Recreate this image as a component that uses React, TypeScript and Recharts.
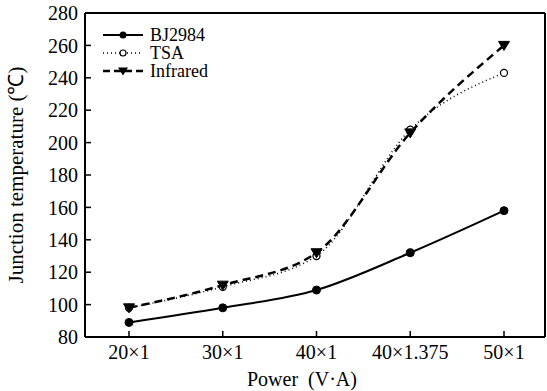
import React from "react";
import { LineChart, Line, XAxis, YAxis, ReferenceLine } from "recharts";

const categories = ["20×1", "30×1", "40×1", "40×1.375", "50×1"];
const bj2984 = [89, 98, 109, 132, 158];
const tsa = [98, 111, 130, 208, 243];
const infrared = [98, 112, 132, 206, 260];
const yTicks = [80, 100, 120, 140, 160, 180, 200, 220, 240, 260, 280];

const data = categories.map((c, i) => ({
  name: c,
  bj: bj2984[i],
  tsa: tsa[i],
  ir: infrared[i],
}));

const FONT = "Liberation Serif";

const FilledDot = (p: any) => {
  const { cx, cy } = p;
  if (cx == null || cy == null) return null;
  return <circle key={p.index} cx={cx} cy={cy} r={4} fill="#000" stroke="#000" />;
};
const OpenDot = (p: any) => {
  const { cx, cy } = p;
  if (cx == null || cy == null) return null;
  return <circle key={p.index} cx={cx} cy={cy} r={3.5} fill="#fff" stroke="#000" strokeWidth={1.3} />;
};
const TriDot = (p: any) => {
  const { cx, cy } = p;
  if (cx == null || cy == null) return null;
  return (
    <path
      key={p.index}
      d={`M${cx - 5.5},${cy - 4} L${cx + 5.5},${cy - 4} L${cx},${cy + 5} Z`}
      fill="#000"
      stroke="#000"
    />
  );
};

const LegendBox = () => {
  const items = [
    { label: "BJ2984", dash: undefined as string | undefined, w: 2, dot: "filled" },
    { label: "TSA", dash: "1 3", w: 1.5, dot: "open" },
    { label: "Infrared", dash: "7 4", w: 2.5, dot: "tri" },
  ];
  return (
    <svg width={140} height={60} style={{ position: "absolute", left: 100, top: 24 }}>
      {items.map((it, i) => {
        const cy = 11 + i * 18;
        return (
          <g key={it.label}>
            <line x1={3} x2={43} y1={cy} y2={cy} stroke="#000" strokeWidth={it.w} strokeDasharray={it.dash} />
            {it.dot === "filled" && <circle cx={23} cy={cy} r={3.5} fill="#000" />}
            {it.dot === "open" && <circle cx={23} cy={cy} r={3} fill="#fff" stroke="#000" strokeWidth={1.2} />}
            {it.dot === "tri" && (
              <path d={`M${23 - 5},${cy - 3.5} L${23 + 5},${cy - 3.5} L23,${cy + 4.5} Z`} fill="#000" />
            )}
            <text x={50} y={cy} dy={5.5} fontFamily={FONT} fontSize={18} fill="#000">
              {it.label}
            </text>
          </g>
        );
      })}
    </svg>
  );
};

const tickStyle = { fontFamily: FONT, fontSize: 20, fill: "#000" };

export default function App() {
  return (
    <div style={{ position: "absolute", left: 0, top: 0, width: 547, height: 391, background: "#fff" }}>
      <LineChart width={547} height={391} data={data} margin={{ top: 13, right: 1, bottom: 0, left: 0 }}>
        <XAxis
          dataKey="name"
          padding={{ left: 44, right: 41 }}
          axisLine={{ stroke: "#000", strokeWidth: 2 }}
          tickLine={{ stroke: "#000", strokeWidth: 1.5 }}
          tickSize={-6}
          tickMargin={14}
          tick={tickStyle}
          height={54}
          interval={0}
          label={{ value: "Power \u00a0(V·A)", position: "insideBottom", offset: 5, dx: -13, fontSize: 20, fill: "#000", fontFamily: FONT }}
        />
        <YAxis
          domain={[80, 280]}
          ticks={yTicks}
          width={85}
          axisLine={{ stroke: "#000", strokeWidth: 2 }}
          tickLine={{ stroke: "#000", strokeWidth: 1.5 }}
          tickSize={-6}
          tickMargin={13}
          tick={tickStyle}
          interval={0}
          label={{ value: "Junction temperature (℃)", angle: -90, position: "insideLeft", offset: 16, style: { textAnchor: "middle" }, fontSize: 21, fill: "#000", fontFamily: FONT }}
        />
        <YAxis yAxisId="right" orientation="right" domain={[80, 280]} width={1} tick={false} tickLine={false} axisLine={{ stroke: "#000", strokeWidth: 2 }} />
        <ReferenceLine y={280} stroke="#000" strokeWidth={2} ifOverflow="extendDomain" />
        <Line type="monotone" dataKey="bj" stroke="#000" strokeWidth={2} dot={<FilledDot />} isAnimationActive={false} />
        <Line type="monotone" dataKey="tsa" stroke="#000" strokeWidth={1.5} strokeDasharray="1 3" dot={<OpenDot />} isAnimationActive={false} />
        <Line type="monotone" dataKey="ir" stroke="#000" strokeWidth={2.5} strokeDasharray="8 5" dot={<TriDot />} isAnimationActive={false} />
      </LineChart>
      <LegendBox />
    </div>
  );
}
